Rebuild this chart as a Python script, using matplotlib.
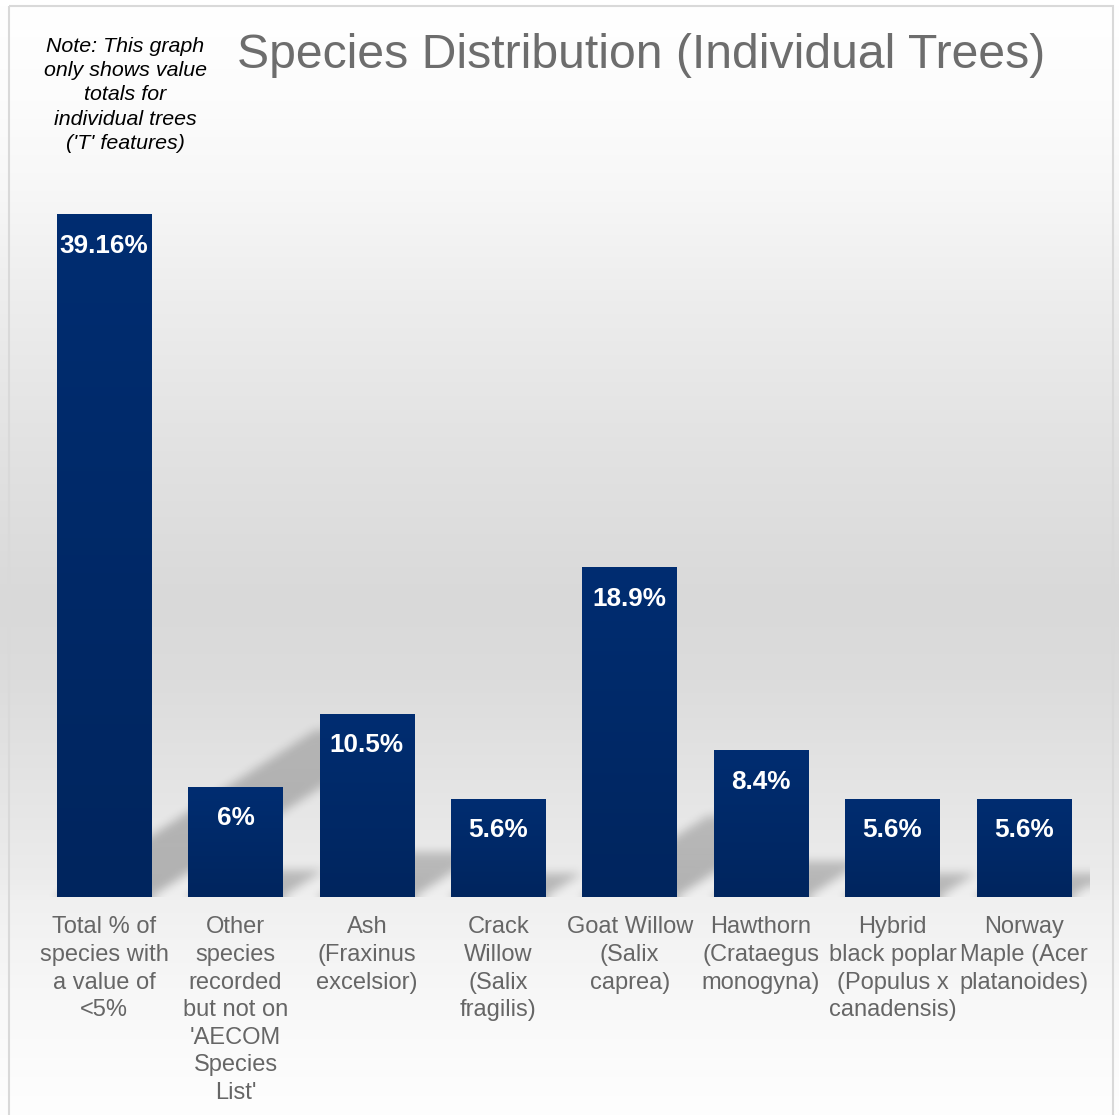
import numpy as np
import matplotlib.pyplot as plt
from matplotlib.patches import Rectangle

plt.rcParams['font.family'] = ['Liberation Sans', 'DejaVu Sans']

categories = [
    "Total % of\nspecies with\na value of\n<5%",
    "Other\nspecies\nrecorded\nbut not on\n'AECOM\nSpecies\nList'",
    "Ash\n(Fraxinus\nexcelsior)",
    "Crack\nWillow\n(Salix\nfragilis)",
    "Goat Willow\n(Salix\ncaprea)",
    "Hawthorn\n(Crataegus\nmonogyna)",
    "Hybrid\nblack poplar\n(Populus x\ncanadensis)",
    "Norway\nMaple (Acer\nplatanoides)",
]
values = [39.16, 6.3, 10.5, 5.6, 18.9, 8.4, 5.6, 5.6]
value_labels = ["39.16%", "6%", "10.5%", "5.6%", "18.9%", "8.4%", "5.6%", "5.6%"]

title = "Species Distribution (Individual Trees)"
note = "Note: This graph\nonly shows value\ntotals for\nindividual trees\n('T' features)"

W, H = 1119, 1115
fig = plt.figure(figsize=(W / 100, H / 100), dpi=100)
fig.patch.set_facecolor('white')

# background gradient of the chart area
bg = fig.add_axes([0, 0, 1, 1], zorder=0)
bg.set_axis_off()
stops_y = [0, 5, 100, 190, 300, 450, 600, 680, 780, 880, 900, 1000, 1115]
stops_g = [255, 255, 252, 247, 237, 226, 217, 220, 228, 236, 240, 248, 254]
grey = np.interp(np.arange(H), stops_y, stops_g) / 255.0
grad = np.repeat(grey[:, None], 2, axis=1)
bg.imshow(np.dstack([grad, grad, grad]), extent=(0, W, H, 0), aspect='auto')
bg.add_patch(Rectangle((8.5, 5.5), 1104, 1120, fill=False, edgecolor='#d9d9d9', lw=1.5))
bg.set_xlim(0, W)
bg.set_ylim(H, 0)

# plot area
left, right, base, top = 38.4, 1089.5, 897, 200
ax = fig.add_axes([left / W, 1 - base / H, (right - left) / W, (base - top) / H], zorder=1)
ax.patch.set_alpha(0)
xlim = (-0.5, len(values) - 0.5)
ylim = (0, 40)
width = 0.72
x = np.arange(len(values))

# perspective shadows (upper right), blurred
nx, ny = int(right - left), int(base - top)
X, Y = np.meshgrid(np.linspace(*xlim, nx), np.linspace(*ylim, ny))
mask = np.zeros_like(X)
for i, v in enumerate(values):
    dx, dy = 0.0504 * v, 0.245 * v
    s = X - Y * dx / dy
    inside = (Y <= dy) & (s >= i - width / 2) & (s <= i + width / 2)
    mask = np.maximum(mask, inside * (1 - 0.2 * Y / dy))


def box_blur(a, r, axis):
    pad = [(0, 0), (0, 0)]
    pad[axis] = (r + 1, r)
    c = np.cumsum(np.pad(a, pad, mode='edge'), axis=axis)
    n = a.shape[axis]
    hi = np.take(c, np.arange(2 * r + 1, 2 * r + 1 + n), axis=axis)
    lo = np.take(c, np.arange(0, n), axis=axis)
    return (hi - lo) / (2 * r + 1)


for _ in range(3):
    mask = box_blur(mask, 4, 0)
    mask = box_blur(mask, 4, 1)

shadow = np.zeros((ny, nx, 4))
shadow[..., 3] = mask * 0.25
ax.imshow(shadow, extent=(*xlim, *ylim), origin='lower', aspect='auto',
          zorder=1, interpolation='bilinear')

# bars with vertical gradient
bars = ax.bar(x, values, width=width, color='#002a6a', zorder=2)
col_top = np.array([0, 45, 113]) / 255
col_bot = np.array([0, 37, 94]) / 255
t = np.linspace(0, 1, 64)[:, None]
bar_grad = (col_top * (1 - t) + col_bot * t)[:, None, :]
for b in bars:
    ax.imshow(bar_grad, extent=(b.get_x(), b.get_x() + b.get_width(), 0, b.get_height()),
              aspect='auto', zorder=3, interpolation='bilinear')

for xi, v, lab in zip(x, values, value_labels):
    ax.text(xi, v - 1.78, lab, ha='center', va='center', color='white',
            fontsize=18.8, fontweight='bold', zorder=4)

ax.set_xlim(*xlim)
ax.set_ylim(*ylim)
ax.set_yticks([])
ax.set_xticks(x)
ax.set_xticklabels(categories, fontsize=17, color='#666666', linespacing=1.33, va='top')
ax.tick_params(axis='x', length=0, pad=14)
for sp in ax.spines.values():
    sp.set_visible(False)

fig.text(641 / W, 1 - 55 / H, title, ha='center', va='center', fontsize=34.7, color='#6d6d6d')
fig.text(125 / W, 1 - 95 / H, note, ha='center', va='center', fontsize=15.4,
         style='italic', color='black', linespacing=1.35)

fig.savefig('out.png', dpi=100)
